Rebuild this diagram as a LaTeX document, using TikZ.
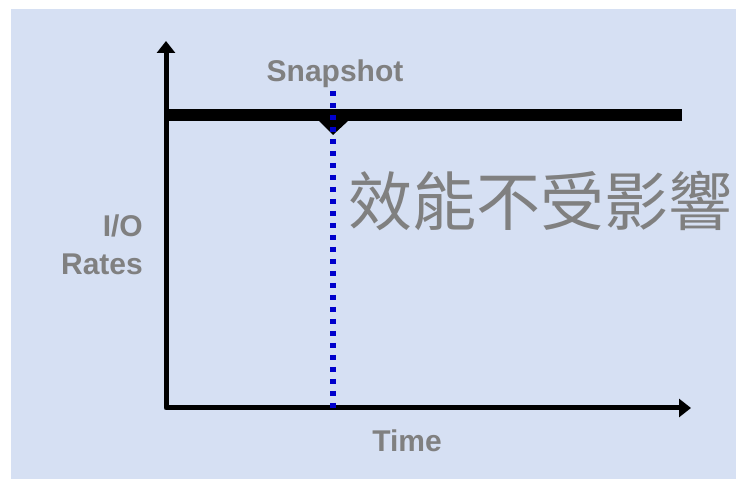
\documentclass[tikz,border=0pt]{standalone}
\usepackage{fontspec}
\setmainfont{Liberation Sans}
\newfontfamily\cjk{Noto Sans CJK TC}
\usetikzlibrary{arrows.meta}
\definecolor{bgblue}{RGB}{214,224,243}
\definecolor{txtgray}{RGB}{128,128,128}
\definecolor{snapblue}{RGB}{0,0,204}
\begin{document}
\begin{tikzpicture}[x=1pt, y=1pt, axistext/.style={text=txtgray, font=\fontsize{30}{38}\selectfont\bfseries, inner sep=0pt}, bigtext/.style={text=txtgray, font=\fontsize{64}{70}\selectfont\cjk, inner sep=0pt}]
	\useasboundingbox (0,0) rectangle (736,479);
	\fill[bgblue] (11,0) rectangle (736,470);
	\coordinate (O) at (166,71);
	\coordinate (Y) at (166,438);
	\coordinate (X) at (691,71);
	\coordinate (L1) at (166,364);
	\coordinate (L2) at (682,364);
	\coordinate (S1) at (333,388);
	\coordinate (S2) at (333,71);
	\draw[line width=5pt, line join=round, {Triangle[length=12pt,width=18pt]}-{Triangle[length=12pt,width=18pt]}] (Y) -- (O) -- (X);
	\draw[line width=12pt] (L1) -- (L2);
	\fill (319,358) -- (348,358) -- (333,344) -- cycle;
	\draw[snapblue, line width=6pt, dash pattern=on 5pt off 7pt] (S1) -- (S2);
	\node[axistext, anchor=base] (SN) at (335,397) {Snapshot};
	\node[axistext, anchor=east, align=right] (IO) at (143,234) {I/O\\Rates};
	\node[axistext, anchor=base] (T) at (407,27) {Time};
	\node[bigtext, anchor=base west] (P) at (348,253) {效能不受影響};
\end{tikzpicture}
\end{document}
